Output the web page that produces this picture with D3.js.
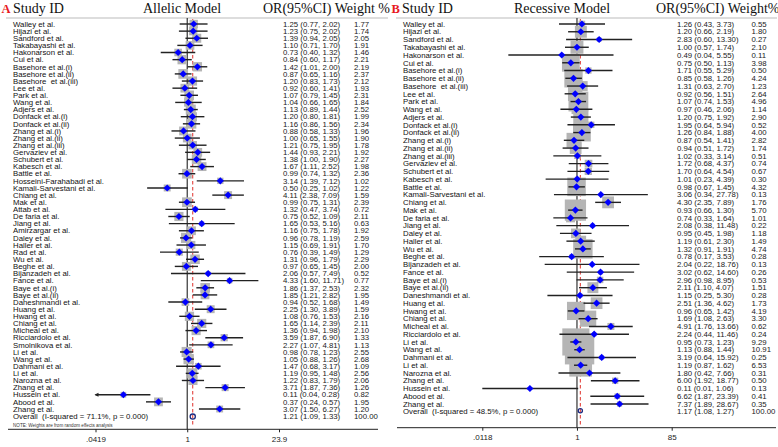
<!DOCTYPE html>
<html><head><meta charset="utf-8">
<script src="https://cdn.jsdelivr.net/npm/d3@7"></script>
<style>
html,body{margin:0;padding:0;background:#fff;}
svg{display:block;}
text{white-space:pre;}
</style></head>
<body>
<svg id="chart" width="778" height="447"></svg>
<script>
// ---------- Panel A : Allelic model ----------
const studiesA = ["Walley et al.","Hijazi et al.","Sandford et al.","Takabayashi et al.","Hakonarson et al.","Cui et al.","Basehore et al.(i)","Basehore et al.(ii)","Basehore  et al.(iii)","Lee et al.","Park et al.","Wang et al.","Adjers et al.","Donfack et al.(i)","Donfack et al.(ii)","Zhang et al.(i)","Zhang et al.(ii)","Zhang et al.(iii)","Gervaziev et al.","Schubert et al.","Kabesch et al.","Battle et al.","Hosseini-Farahabadi et al.","Kamali-Sarvestani et al.","Chiang et al.","Mak et al.","Attab et al.","De faria et al.","Jiang et al.","Amirzargar et al.","Daley et al.","Haller et al.","Rad et al.","Wu et al.","Beghe et al.","Bijanzadeh et al.","Fance et al.","Baye et al.(i)","Baye et al.(ii)","Daheshmandi et al.","Huang et al.","Hwang et al.","Chiang et al.","Micheal et al.","Ricciardolo et al.","Smolnikova et al.","Li et al.","Wang et al.","Dahmani et al.","Li et al.","Narozna et al.","Zhang et al.","Hussein et al.","Abood et al.","Zhang et al."];
const orA   = [1.25,1.23,1.39,1.10,0.73,0.84,1.42,0.87,1.20,0.92,1.07,1.04,1.13,1.20,1.16,0.88,1.00,1.21,1.44,1.38,1.67,0.99,3.14,0.50,4.11,0.99,1.32,0.75,1.65,1.16,0.96,1.15,0.76,1.31,0.97,2.06,4.33,1.86,1.85,0.94,2.25,1.08,1.65,1.36,3.59,2.27,0.98,1.05,1.47,1.19,1.22,3.71,0.11,0.37,3.07];
const lowA  = [0.77,0.75,0.94,0.71,0.40,0.60,1.01,0.65,0.83,0.60,0.79,0.66,0.89,0.80,0.86,0.58,0.65,0.75,0.93,1.00,1.11,0.74,1.39,0.25,2.38,0.75,0.47,0.52,0.53,0.75,0.78,0.69,0.39,0.96,0.65,0.57,1.60,1.37,1.21,0.52,1.30,0.76,1.14,0.94,1.87,1.07,0.78,0.88,0.68,0.95,0.83,1.87,0.04,0.24,1.50];
const highA = [2.02,2.02,2.05,1.70,1.32,1.17,2.00,1.16,1.73,1.41,1.45,1.65,1.44,1.81,1.56,1.33,1.55,1.95,2.21,1.90,2.52,1.32,7.12,1.02,7.09,1.31,3.74,1.09,5.16,1.78,1.19,1.91,1.49,1.79,1.45,7.49,11.71,2.53,2.82,1.68,3.89,1.53,2.39,1.98,6.90,4.81,1.23,1.26,3.17,1.48,1.79,7.36,0.28,0.57,6.27];
const weightA = [1.77,1.74,2.05,1.91,1.46,2.21,2.19,2.37,2.12,1.93,2.31,1.84,2.52,1.99,2.34,1.96,1.90,1.78,1.92,2.27,1.98,2.36,1.02,1.22,1.59,2.39,0.72,2.11,0.63,1.92,2.59,1.70,1.29,2.29,2.00,0.52,0.77,2.32,1.95,1.49,1.59,2.16,2.11,2.10,1.33,1.13,2.55,2.68,1.09,2.56,2.06,1.26,0.82,1.95,1.20];
const overallA = {label:"Overall  (I-squared = 71.1%, p = 0.000)", or:1.21, low:1.09, high:1.33, weight:100.00};
const tickValsA = [0.0419, 1, 23.9];
const tickLabelsA = [".0419","1","23.9"];

// ---------- Panel B : Recessive model ----------
const studiesB = ["Walley et al.","Hijazi et al.","Sandford et al.","Takabayashi et al.","Hakonarson et al.","Cui et al.","Basehore et al.(i)","Basehore et al.(ii)","Basehore  et al.(iii)","Lee et al.","Park et al.","Wang et al.","Adjers et al.","Donfack et al.(i)","Donfack et al.(ii)","Zhang et al.(i)","Zhang et al.(ii)","Zhang et al.(iii)","Gervaziev et al.","Schubert et al.","Kabesch et al.","Battle et al.","Kamali-Sarvestani et al.","Chiang et al.","Mak et al.","De faria et al.","Jiang et al.","Daley et al.","Haller et al.","Wu et al.","Beghe et al.","Bijanzadeh et al.","Fance et al.","Baye et al.(i)","Baye et al.(ii)","Daneshmandi et al.","Huang et al.","Hwang et al.","Chiang et al.","Micheal et al.","Ricciardolo et al.","Li et al.","Wang et al.","Dahmani et al.","Li et al.","Narozna et al.","Zhang et al.","Hussein et al.","Abood et al.","Zhang et al."];
const orB   = [1.26,1.20,2.83,1.00,0.49,0.75,1.71,0.85,1.31,0.92,1.07,0.97,1.20,1.95,1.26,0.87,0.94,1.02,1.72,1.70,1.01,0.98,3.06,4.30,0.93,0.74,2.08,0.95,1.19,1.32,0.78,2.04,3.02,2.96,2.11,1.15,2.51,0.96,1.69,4.91,2.24,0.95,1.13,3.19,1.19,1.80,6.00,0.11,6.62,7.37];
const lowB  = [0.43,0.66,0.60,0.57,0.04,0.50,0.55,0.58,0.63,0.56,0.74,0.46,0.75,0.64,0.84,0.54,0.51,0.33,0.68,0.64,0.23,0.67,0.34,2.35,0.66,0.33,0.38,0.45,0.61,0.91,0.17,0.22,0.62,0.98,1.10,0.25,1.36,0.65,1.08,1.76,0.44,0.73,0.88,0.64,0.87,0.42,1.92,0.01,1.87,1.89];
const highB = [3.73,2.19,13.30,1.74,5.55,1.13,5.29,1.26,2.70,1.51,1.53,2.06,1.92,5.94,1.88,1.41,1.72,3.14,4.37,4.54,4.39,1.45,27.78,7.89,1.30,1.64,11.48,1.98,2.30,1.91,3.53,18.76,14.60,8.95,4.07,5.30,4.62,1.42,2.63,13.66,11.46,1.23,1.44,15.92,1.62,7.66,18.77,1.06,23.39,28.67];
const weightB = [0.55,1.80,0.27,2.10,0.11,3.98,0.50,4.24,1.23,2.64,4.96,1.14,2.90,0.52,4.00,2.82,1.74,0.51,0.74,0.67,0.30,4.32,0.13,1.76,5.70,1.01,0.22,1.18,1.49,4.74,0.28,0.13,0.26,0.53,1.51,0.28,1.73,4.19,3.30,0.62,0.24,9.29,10.91,0.25,6.53,0.31,0.50,0.13,0.41,0.35];
const overallB = {label:"Overall  (I-squared = 48.5%, p = 0.000)", or:1.17, low:1.08, high:1.27, weight:100.00};
const tickValsB = [0.0118, 1, 85];
const tickLabelsB = [".0118","1","85"];

const svg = d3.select("#chart");
const f2 = d3.format(".2f");
const SANS = "'Liberation Sans', Arial, sans-serif";
const SERIF = "'Liberation Serif', 'Times New Roman', serif";

function panel(cfg) {
  const g = svg.append("g");
  const n = cfg.studies.length;
  const y = d3.scaleLinear().domain([0, n - 1]).range([cfg.yTop, cfg.yLast]);
  const yOverall = cfg.yOverall;
  const x = d3.scaleLog().domain(cfg.domain).range(cfg.range);
  const box = d3.scaleSqrt().domain([0, 1]).range([0, cfg.boxK]);

  // header
  g.append("text").attr("x", cfg.letterX).attr("y", 12.5).attr("font-family", SERIF)
    .attr("font-size", 12.5).attr("font-weight", "bold").attr("fill", "#e8191e").text(cfg.letter);
  g.append("text").attr("x", cfg.studyX).attr("y", 12.5).attr("font-family", SERIF)
    .attr("font-size", 14).attr("fill", "#111").text("Study ID");
  g.append("text").attr("x", cfg.modelX).attr("y", 12.5).attr("font-family", SERIF)
    .attr("font-size", 14).attr("fill", "#111").text(cfg.model);
  g.append("text").attr("x", cfg.orHeadX).attr("y", 12.5).attr("font-family", SERIF)
    .attr("font-size", 14).attr("fill", "#111").text(cfg.orHead);
  // header rule
  g.append("line").attr("x1", cfg.ruleX[0]).attr("x2", cfg.ruleX[1]).attr("y1", 18).attr("y2", 18)
    .attr("stroke", "#aaa").attr("stroke-width", 0.8);

  // null line
  g.append("line").attr("x1", x(1)).attr("x2", x(1)).attr("y1", 18).attr("y2", cfg.axisY)
    .attr("stroke", "#333").attr("stroke-width", 1.2);
  // overall dashed line
  g.append("line").attr("x1", x(cfg.overall.or)).attr("x2", x(cfg.overall.or))
    .attr("y1", 19).attr("y2", cfg.axisY - 3)
    .attr("stroke", "#e0302a").attr("stroke-width", 1).attr("stroke-dasharray", "3.5,2.5");

  const data = cfg.studies.map((s, i) => ({name: s, or: cfg.or[i], low: cfg.low[i], high: cfg.high[i], w: cfg.weight[i], y: y(i)}));
  const [dmin, dmax] = cfg.domain;

  // weight boxes
  g.selectAll("rect.box").data(data).enter().append("rect").attr("class", "box")
    .attr("x", d => x(d.or) - box(d.w) / 2).attr("y", d => d.y - box(d.w) / 2)
    .attr("width", d => box(d.w)).attr("height", d => box(d.w))
    .attr("fill", "#b5b5b5");

  // CI lines
  g.selectAll("line.ci").data(data).enter().append("line").attr("class", "ci")
    .attr("x1", d => x(Math.max(d.low, dmin))).attr("x2", d => x(Math.min(d.high, dmax)))
    .attr("y1", d => d.y).attr("y2", d => d.y)
    .attr("stroke", "#222").attr("stroke-width", 1.4);
  // arrows for clipped CIs
  if (cfg.arrows) {
    data.filter(d => d.low < dmin).forEach(d => {
      const x0 = x(dmin);
      g.append("path").attr("d", `M${x0 - 1},${d.y} L${x0 + 3},${d.y - 2} L${x0 + 3},${d.y + 2} Z`).attr("fill", "#222");
    });
  }

  // diamonds
  const dm = 3.6;
  g.selectAll("path.pt").data(data).enter().append("path").attr("class", "pt")
    .attr("d", d => { const cx = x(d.or), cy = d.y; return `M${cx},${cy - dm} L${cx + dm},${cy} L${cx},${cy + dm} L${cx - dm},${cy} Z`; })
    .attr("fill", "#0000ff");

  // overall marker
  g.append("circle").attr("cx", x(cfg.overall.or)).attr("cy", yOverall).attr("r", cfg.ovR)
    .attr("fill", "none").attr("stroke", "#1c2a80").attr("stroke-width", 1.3);

  // text columns
  const tx = g.append("g").attr("font-family", SANS).attr("font-size", 7.8).attr("fill", "#111");
  tx.selectAll("text.nm").data(data).enter().append("text").attr("class", "nm")
    .attr("x", cfg.nameX).attr("y", d => d.y).attr("dy", "0.35em").text(d => d.name);
  tx.selectAll("text.orv").data(data).enter().append("text").attr("class", "orv")
    .attr("x", cfg.orX).attr("y", d => d.y).attr("dy", "0.35em").attr("fill", "#222")
    .text(d => `${f2(d.or)} (${f2(d.low)}, ${f2(d.high)})`);
  tx.selectAll("text.wt").data(data).enter().append("text").attr("class", "wt")
    .attr("x", cfg.wX).attr("y", d => d.y).attr("dy", "0.35em").attr("fill", "#222")
    .text(d => f2(d.w));
  const o = cfg.overall;
  tx.append("text").attr("x", cfg.nameX).attr("y", yOverall).attr("dy", "0.35em").text(o.label);
  tx.append("text").attr("x", cfg.orX).attr("y", yOverall).attr("dy", "0.35em").attr("fill", "#222")
    .text(`${f2(o.or)} (${f2(o.low)}, ${f2(o.high)})`);
  tx.append("text").attr("x", cfg.wX).attr("y", yOverall).attr("dy", "0.35em").attr("fill", "#222")
    .text(f2(o.weight));

  if (cfg.note) {
    g.append("text").attr("x", cfg.nameX).attr("y", cfg.axisY - 2.5).attr("font-family", SANS)
      .attr("font-size", 4.6).attr("fill", "#333").text(cfg.note);
  }

  // axis
  g.append("line").attr("x1", cfg.axisX[0]).attr("x2", cfg.axisX[1]).attr("y1", cfg.axisY).attr("y2", cfg.axisY)
    .attr("stroke", "#222").attr("stroke-width", 1);
  const ax = g.append("g").attr("transform", `translate(0,${cfg.axisY})`)
    .call(d3.axisBottom(x).tickValues(cfg.tickVals).tickSize(3).tickPadding(4)
      .tickFormat((d, i) => cfg.tickLabels[i]));
  ax.select(".domain").remove();
  ax.selectAll("line").attr("stroke", "#222");
  ax.selectAll("text").attr("font-family", SANS).attr("font-size", 8).attr("fill", "#222");
}

panel({
  letter: "A", letterX: 1.5, studyX: 13, model: "Allelic Model", modelX: 143, orHead: "OR(95%CI) Weight %", orHeadX: 263,
  ruleX: [6, 388], studies: studiesA, or: orA, low: lowA, high: highA, weight: weightA, overall: overallA,
  yTop: 24, yLast: 409, yOverall: 416.6, domain: [0.0419, 23.9], range: [95.5, 279],
  boxK: 6.3, ovR: 2.6, nameX: 13, orX: 283, wX: 354, axisY: 429.3, axisX: [8, 378], arrows: true,
  tickVals: tickValsA, tickLabels: tickLabelsA, note: "NOTE: Weights are from random effects analysis"
});
panel({
  letter: "B", letterX: 391.5, studyX: 402, model: "Recessive Model", modelX: 514, orHead: "OR(95%CI) Weight%", orHeadX: 656,
  ruleX: [396, 777], studies: studiesB, or: orB, low: lowB, high: highB, weight: weightB, overall: overallB,
  yTop: 24, yLast: 404, yOverall: 410.8, domain: [0.0118, 85], range: [482.3, 671.7],
  boxK: 8.9, ovR: 2.1, nameX: 403, orX: 677, wX: 751.5, axisY: 427.7, axisX: [397, 776], arrows: false,
  tickVals: tickValsB, tickLabels: tickLabelsB, note: null
});
</script>
</body></html>
